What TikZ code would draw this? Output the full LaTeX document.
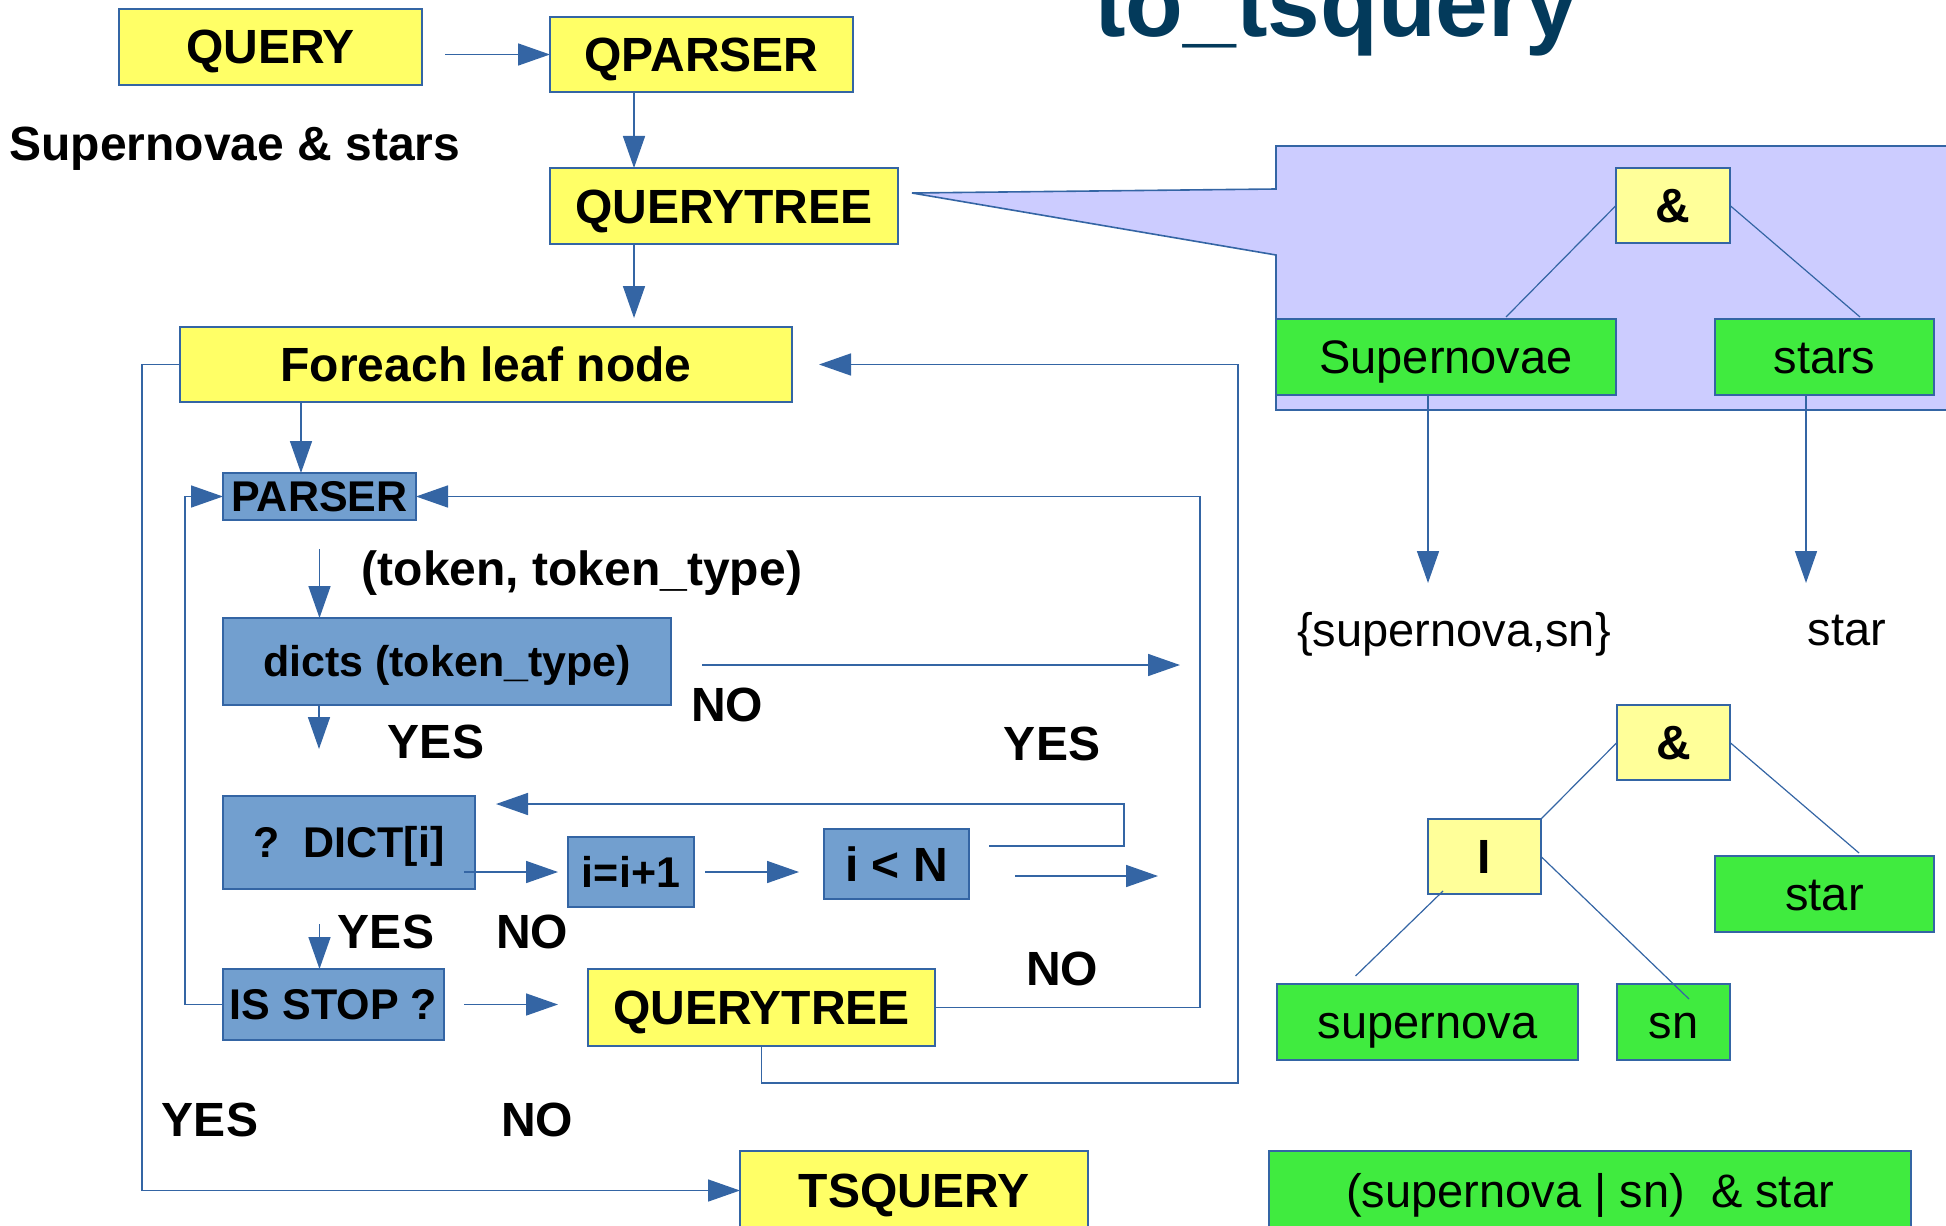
\documentclass[tikz,border=0pt]{standalone}
\usepackage{fontspec}
\setmainfont{Liberation Sans}
\usetikzlibrary{arrows.meta,calc}
\definecolor{lineblue}{HTML}{3465A4}
\definecolor{yel}{HTML}{FFFF66}
\definecolor{lyel}{HTML}{FFFF99}
\definecolor{boxblue}{HTML}{729FCF}
\definecolor{grn}{HTML}{40EB3F}
\definecolor{lav}{HTML}{CCCCFF}
\definecolor{titleblue}{HTML}{033A5B}
\newcommand\myb{\fontsize{24}{28}\selectfont\bfseries}
\newcommand\mybs{\fontsize{21.5}{26}\selectfont\bfseries}
\newcommand\myr{\fontsize{23.5}{28}\selectfont}
\newcommand\mytitle{\fontsize{47.3}{56}\selectfont\bfseries}
\tikzset{
  conn/.style={draw=lineblue, line width=0.8pt},
  tline/.style={draw=lineblue, line width=0.6pt},
  arr/.style={conn, -{Triangle[length=16pt,width=11pt]}},
  bx/.style={draw=lineblue, line width=0.8pt, inner sep=0pt, outer sep=0pt, text height=17pt, text depth=0pt, font=\myb, anchor=center},
  ybox/.style={bx, fill=yel},
  lybox/.style={bx, fill=lyel},
  bbox/.style={bx, fill=boxblue, font=\mybs, text height=15.4pt},
  gbox/.style={bx, fill=grn, font=\myr, text height=16.8pt},
  sz/.style n args={2}{minimum width=#1pt, minimum height=#2pt},
  lbl/.style={inner sep=0pt, text height=17pt, text depth=0pt, font=\myb},
  rlbl/.style={inner sep=0pt, text height=16.8pt, text depth=0pt, font=\myr},
}
\begin{document}
\begin{tikzpicture}[x=0.5pt,y=-0.5pt]
\useasboundingbox (0,0) rectangle (1946,1225);

% callout background
\path[draw=lineblue, fill=lav, line width=0.8pt] (1276,146) -- (1960,146) -- (1960,410) -- (1276,410) -- (1276,255) -- (912,193) -- (1276,189) -- cycle;

% title
\node[font=\mytitle, text=titleblue, anchor=base, inner sep=0pt] (title) at (1336,37) {to\_tsquery};

% left flow boxes
\node[ybox, sz={151.5}{38}] (query) at (270.5,47) {QUERY};
\node[ybox, sz={151.5}{37.5}] (qparser) at (701.5,54.5) {QPARSER};
\node[ybox, sz={174}{38}] (qtree) at (724,206) {QUERYTREE};
\node[ybox, sz={306}{37.5}] (foreach) at (486,364.5) {Foreach leaf node};
\node[bbox, sz={96.5}{23.5}] (parser) at (319.5,496.5) {PARSER};
\node[bbox, sz={224}{43.5}] (dicts) at (447,661.5) {dicts (token\_type)};
\node[bbox, sz={126}{46.5}] (dict) at (349,842.5) {?~~DICT[i]};
\node[bbox, sz={63}{35}] (iinc) at (631,872) {i=i+1};
\node[bbox, sz={72.5}{35}, font=\myb, text height=17pt] (ilt) at (896.5,864) {i {<} N};
\node[bbox, sz={110.5}{35.5}] (isstop) at (333.5,1004.5) {IS STOP ?};
\node[ybox, sz={173.5}{38.5}] (qtree2) at (761.5,1007.5) {QUERYTREE};
\node[ybox, sz={174}{39.5}] (tsquery) at (914,1190.5) {TSQUERY};

% right tree boxes
\node[lybox, sz={57}{37.5}] (and1) at (1673,205.5) {\&};
\node[gbox, sz={170}{38}] (supernovae) at (1446,357) {Supernovae};
\node[gbox, sz={109.5}{38}] (stars) at (1824.5,357) {stars};
\node[lybox, sz={56.5}{37.5}] (and2) at (1673.5,742.5) {\&};
\node[lybox, sz={56.5}{37.5}] (orb) at (1484.5,856.5) {I};
\node[gbox, sz={109.5}{38}] (star) at (1824.5,894) {star};
\node[gbox, sz={150.5}{38}] (supernova) at (1427.5,1022) {supernova};
\node[gbox, sz={56.5}{38}] (sn) at (1673.5,1022) {sn};
\node[gbox, sz={321}{39.5}] (final) at (1590,1190.5) {(supernova | sn)~ \& star};

% labels
\node[lbl] (sns) at (235,144) {Supernovae \& stars};
\node[lbl] (tok) at (582,568) {(token, token\_type)};
\node[lbl] (no1) at (727,704) {NO};
\node[lbl] (yes1) at (436,741) {YES};
\node[lbl] (yes2) at (1052,743) {YES};
\node[lbl] (yes3) at (386,931) {YES};
\node[lbl] (no2) at (532,931) {NO};
\node[lbl] (no3) at (1062,968) {NO};
\node[lbl] (yes4) at (210,1119) {YES};
\node[lbl] (no4) at (537,1119) {NO};
\node[rlbl] (syn) at (1454,630) {\{supernova,sn\}};
\node[rlbl] (stem) at (1847,629) {star};

% helper coordinates
\coordinate (c634) at (634,0);
\coordinate (c301) at (301,0);
\coordinate (c142) at (142,0);
\coordinate (c185) at (185,0);
\coordinate (c1200) at (1200,0);
\coordinate (b1) at (1238,1083);
\coordinate (dno) at (1180,665);
\coordinate (dyes) at (319,749);
\coordinate (lp) at (1124,804);
\coordinate (iyes) at (1158,876);
\coordinate (s1) at (1428,583);
\coordinate (s2) at (1806,583);

% flow connectors
\draw[arr, shorten <=11.5pt] (query.east |- qparser.west) -- (qparser.west);
\draw[arr] (qparser.south -| c634) -- (qtree.north -| c634);
\draw[arr, shorten >=4.5pt] (qtree.south -| c634) -- (foreach.north -| c634);
\draw[arr] (foreach.south -| c301) -- (parser.north -| c301);
\draw[arr] (foreach.west) -- (foreach.west -| c142) |- (tsquery.west);
\draw[arr, shorten >=13.5pt] (qtree2.south) |- (b1) |- (foreach.east);
\draw[arr] (qtree2.east) -| (c1200 |- parser.east) -- (parser.east);
\draw[arr] (isstop.west) -| (c185 |- parser.west) -- (parser.west);
\draw[arr, shorten <=14.5pt] (parser.south) -- (dicts.north -| parser.south);
\draw[arr, shorten <=15.5pt] (dicts.east |- dno) -- (dno);
\draw[arr] (dicts.south -| dyes) -- (dyes);
\draw[arr, shorten >=10.5pt] ($(ilt.east)+(20,-18)$) -| (lp) -- (dict.east |- lp);
\draw[arr, shorten <=-5.5pt, shorten >=5pt] (dict.east |- iinc.west) -- (iinc.west);
\draw[arr, shorten <=5.5pt, shorten >=12.5pt] (iinc.east) -- (iinc.east -| ilt.west);
\draw[arr, shorten <=23pt] (ilt.east |- iyes) -- (iyes);
\draw[arr, shorten <=17.5pt] (dict.south -| parser.south) -- (isstop.north -| parser.south);
\draw[arr, shorten <=10pt, shorten >=15pt] (isstop.east) -- (isstop.east -| qtree2.west);

% tree connectors
\draw[tline] (and1.west) -- ($(supernovae.north)+(60,-2)$);
\draw[tline] (and1.east) -- ($(stars.north)+(35.5,-2)$);
\draw[arr] (supernovae.south -| s1) -- (s1);
\draw[arr] (stars.south -| s2) -- (s2);
\draw[tline] (and2.west) -- (orb.north east);
\draw[tline] (and2.east) -- ($(star.north)+(34.5,-3)$);
\draw[tline] ($(orb.south west)+(15,-3)$) -- ($(supernova.north)+(-72,-8)$);
\draw[tline] (orb.east) -- ($(sn.north)+(15.5,15)$);
\end{tikzpicture}
\end{document}
